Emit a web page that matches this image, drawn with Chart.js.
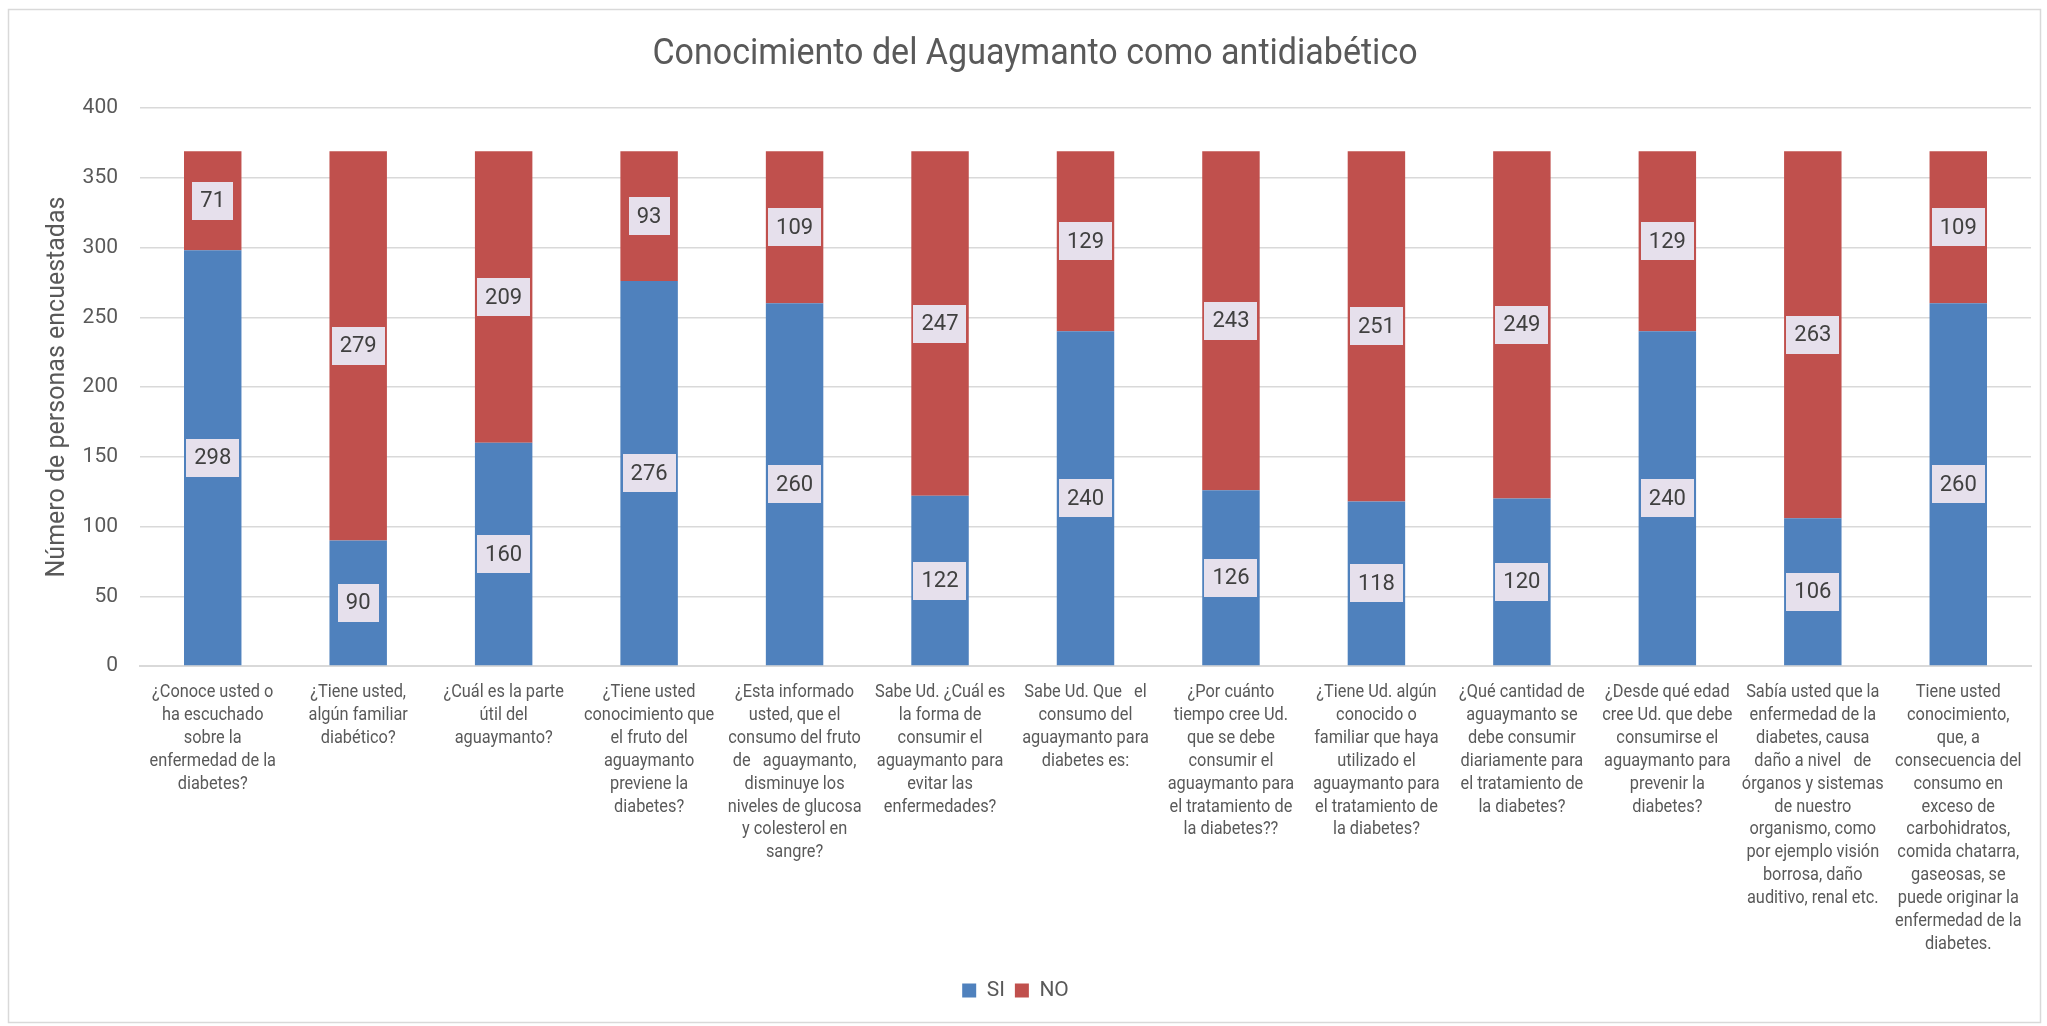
<!DOCTYPE html>
<html>
<head>
<meta charset="utf-8">
<script src="https://cdn.jsdelivr.net/npm/chart.js@4.4.1/dist/chart.umd.min.js"></script>
<style>
  html, body { margin: 0; padding: 0; background: #ffffff; }
  #wrap { width: 2047px; height: 1026px; position: relative; }
  canvas { display: block; }
</style>
</head>
<body>
<div id="wrap"><canvas id="c" width="2047" height="1026"></canvas></div>
<script>
const chartTitle = "Conocimiento del Aguaymanto como antidiabético";
const yAxisTitle = "Número de personas encuestadas";
const seriesNames = ["SI", "NO"];
const categories = [
  ["¿Conoce usted o", "ha escuchado", "sobre la", "enfermedad de la", "diabetes?"],
  ["¿Tiene usted,", "algún familiar", "diabético?"],
  ["¿Cuál es la parte", "útil del", "aguaymanto?"],
  ["¿Tiene usted", "conocimiento que", "el fruto del", "aguaymanto", "previene la", "diabetes?"],
  ["¿Esta informado", "usted, que el", "consumo del fruto", "de   aguaymanto,", "disminuye los", "niveles de glucosa", "y colesterol en", "sangre?"],
  ["Sabe Ud. ¿Cuál es", "la forma de", "consumir el", "aguaymanto para", "evitar las", "enfermedades?"],
  ["Sabe Ud. Que   el", "consumo del", "aguaymanto para", "diabetes es:"],
  ["¿Por cuánto", "tiempo cree Ud.", "que se debe", "consumir el", "aguaymanto para", "el tratamiento de", "la diabetes??"],
  ["¿Tiene Ud. algún", "conocido o", "familiar que haya", "utilizado el", "aguaymanto para", "el tratamiento de", "la diabetes?"],
  ["¿Qué cantidad de", "aguaymanto se", "debe consumir", "diariamente para", "el tratamiento de", "la diabetes?"],
  ["¿Desde qué edad", "cree Ud. que debe", "consumirse el", "aguaymanto para", "prevenir la", "diabetes?"],
  ["Sabía usted que la", "enfermedad de la", "diabetes, causa", "daño a nivel   de", "órganos y sistemas", "de nuestro", "organismo, como", "por ejemplo visión", "borrosa, daño", "auditivo, renal etc."],
  ["Tiene usted", "conocimiento,", "que, a", "consecuencia del", "consumo en", "exceso de", "carbohidratos,", "comida chatarra,", "gaseosas, se", "puede originar la", "enfermedad de la", "diabetes."]
];
const siValues = [298, 90, 160, 276, 260, 122, 240, 126, 118, 120, 240, 106, 260];
const noValues = [71, 279, 209, 93, 109, 247, 129, 243, 251, 249, 129, 263, 109];
const yTicks = { min: 0, max: 400, step: 50 };

const REG = "Roboto, 'Liberation Sans', sans-serif";
const TEXT_GRAY = '#595959';

// white background + light frame
const frame = {
  id: 'frame',
  beforeDraw(chart) {
    const ctx = chart.ctx;
    ctx.save();
    ctx.fillStyle = '#ffffff';
    ctx.fillRect(0, 0, chart.width, chart.height);
    ctx.strokeStyle = '#D9D9D9';
    ctx.lineWidth = 1.5;
    ctx.strokeRect(8.5, 9.5, 2032, 1013);
    ctx.restore();
  }
};

// condensed title and category labels (narrow typeface look)
const condensedText = {
  id: 'condensedText',
  afterDraw(chart) {
    const ctx = chart.ctx;
    const xs = chart.scales.x;
    ctx.save();
    ctx.fillStyle = TEXT_GRAY;
    // title
    ctx.font = "37px " + REG;
    ctx.textAlign = 'center';
    ctx.textBaseline = 'alphabetic';
    ctx.save();
    ctx.translate(1035, 64);
    ctx.scale(0.92, 1);
    ctx.fillText(chartTitle, 0, 0);
    ctx.restore();
    // category labels
    ctx.font = "19px " + REG;
    const top = chart.chartArea.bottom + 31;
    const lh = 22.9;
    categories.forEach((lines, i) => {
      const x = xs.getPixelForValue(i);
      lines.forEach((ln, j) => {
        ctx.save();
        ctx.translate(x, top + j * lh);
        ctx.scale(0.86, 1);
        ctx.fillText(ln, 0, 0);
        ctx.restore();
      });
    });
    ctx.restore();
  }
};

const valueLabels = {
  id: 'valueLabels',
  afterDatasetsDraw(chart) {
    const ctx = chart.ctx;
    ctx.save();
    ctx.font = "22px " + REG;
    ctx.textAlign = 'center';
    ctx.textBaseline = 'middle';
    chart.data.datasets.forEach((ds, di) => {
      const meta = chart.getDatasetMeta(di);
      meta.data.forEach((el, i) => {
        const p = el.getProps(['x', 'y', 'base'], true);
        const cy = (p.y + p.base) / 2;
        const txt = String(ds.data[i]);
        const w = ctx.measureText(txt).width + 16;
        const h = 38;
        ctx.fillStyle = '#E6E0EC';
        ctx.fillRect(Math.round(p.x - w / 2), Math.round(cy - h / 2), Math.round(w), h);
        ctx.fillStyle = '#404040';
        ctx.fillText(txt, p.x, cy + 1);
      });
    });
    ctx.restore();
  }
};

new Chart(document.getElementById('c'), {
  type: 'bar',
  data: {
    labels: categories,
    datasets: [
      { label: seriesNames[0], data: siValues, backgroundColor: '#4F81BD', borderWidth: 0 },
      { label: seriesNames[1], data: noValues, backgroundColor: '#C0504D', borderWidth: 0 }
    ]
  },
  options: {
    responsive: false,
    animation: false,
    devicePixelRatio: 1,
    layout: { padding: { left: 0, right: 16, top: 108, bottom: 15 } },
    datasets: { bar: { barPercentage: 0.395, categoryPercentage: 1.0 } },
    plugins: {
      title: { display: false },
      legend: {
        display: true,
        position: 'bottom',
        labels: {
          color: TEXT_GRAY,
          font: { family: REG, size: 21 },
          boxWidth: 14,
          boxHeight: 14,
          padding: 10
        }
      },
      tooltip: { enabled: false }
    },
    scales: {
      x: {
        stacked: true,
        grid: { display: false, drawTicks: false },
        border: { display: true, color: '#D9D9D9', width: 2 },
        ticks: { display: false, autoSkip: false, maxRotation: 0, minRotation: 0 },
        afterFit(scale) { scale.height = 304; }
      },
      y: {
        stacked: true,
        min: yTicks.min,
        max: yTicks.max,
        grid: { color: '#D9D9D9', lineWidth: 1.5, drawTicks: false },
        border: { display: false },
        ticks: {
          stepSize: yTicks.step,
          color: TEXT_GRAY,
          font: { family: REG, size: 21 },
          padding: 22
        },
        title: {
          display: true,
          text: yAxisTitle,
          color: TEXT_GRAY,
          font: { family: REG, size: 25, weight: 'normal' },
          padding: { top: 43, bottom: 0 }
        },
        afterFit(scale) { scale.width = 140; }
      }
    }
  },
  plugins: [frame, valueLabels, condensedText]
});
</script>
</body>
</html>
